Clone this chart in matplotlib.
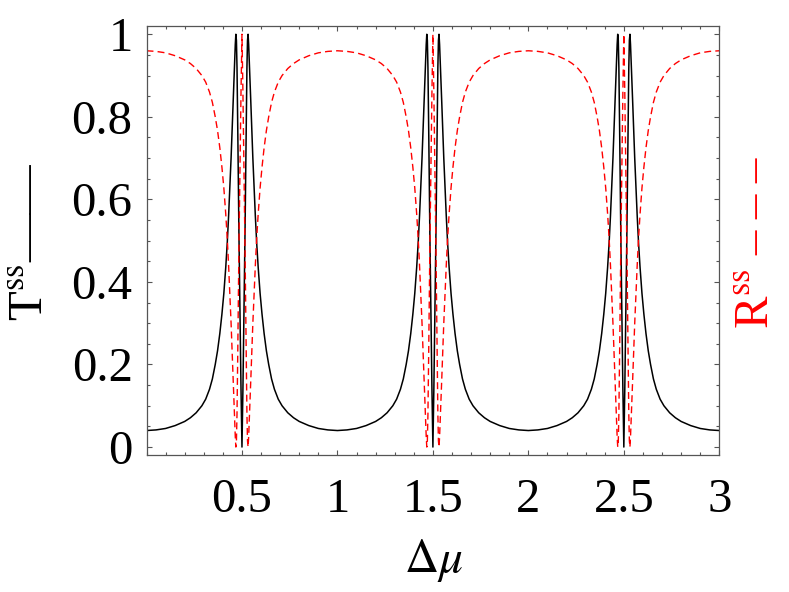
import numpy as np
import matplotlib
matplotlib.use("Agg")
import matplotlib.pyplot as plt
from matplotlib.ticker import MultipleLocator

plt.rcParams.update({"font.family": "Liberation Serif", "mathtext.fontset": "stix"})

# valeurs (T et R en regime stationnaire vs delta mu)
dmu = [0.0, 0.05, 0.1, 0.15, 0.2, 0.23, 0.26, 0.29, 0.31, 0.33, 0.345, 0.36, 0.372, 0.384, 0.395,
       0.405, 0.415, 0.423, 0.43, 0.437, 0.443, 0.449, 0.454, 0.458, 0.462, 0.465, 0.468, 0.471,
       0.474, 0.478, 0.484, 0.49, 0.495, 0.5,
       0.505, 0.51, 0.516, 0.522, 0.526, 0.529, 0.532, 0.535, 0.538, 0.542, 0.546, 0.551, 0.557,
       0.563, 0.57, 0.577, 0.585, 0.595, 0.605, 0.616, 0.628, 0.64, 0.655, 0.67, 0.69, 0.71, 0.74,
       0.77, 0.8, 0.85, 0.9, 0.95, 1.0,
       1.05, 1.1, 1.15, 1.2, 1.23, 1.26, 1.29, 1.31, 1.33, 1.345, 1.36, 1.372, 1.384, 1.395,
       1.405, 1.415, 1.423, 1.43, 1.437, 1.443, 1.449, 1.454, 1.458, 1.462, 1.465, 1.468, 1.471,
       1.474, 1.478, 1.484, 1.49, 1.495, 1.5,
       1.505, 1.51, 1.516, 1.522, 1.526, 1.529, 1.532, 1.535, 1.538, 1.542, 1.546, 1.551, 1.557,
       1.563, 1.57, 1.577, 1.585, 1.595, 1.605, 1.616, 1.628, 1.64, 1.655, 1.67, 1.69, 1.71, 1.74,
       1.77, 1.8, 1.85, 1.9, 1.95, 2.0,
       2.05, 2.1, 2.15, 2.2, 2.23, 2.26, 2.29, 2.31, 2.33, 2.345, 2.36, 2.372, 2.384, 2.395,
       2.405, 2.415, 2.423, 2.43, 2.437, 2.443, 2.449, 2.454, 2.458, 2.462, 2.465, 2.468, 2.471,
       2.474, 2.478, 2.484, 2.49, 2.495, 2.5,
       2.505, 2.51, 2.516, 2.522, 2.526, 2.529, 2.532, 2.535, 2.538, 2.542, 2.546, 2.551, 2.557,
       2.563, 2.57, 2.577, 2.585, 2.595, 2.605, 2.616, 2.628, 2.64, 2.655, 2.67, 2.69, 2.71, 2.74,
       2.77, 2.8, 2.85, 2.9, 2.95, 3.0]
T_ss = [0.040, 0.0415, 0.045, 0.052, 0.062, 0.071, 0.083, 0.100, 0.116, 0.140, 0.165, 0.200, 0.233, 0.275, 0.322,
        0.372, 0.435, 0.495, 0.56, 0.635, 0.70, 0.775, 0.84, 0.89, 0.94, 0.975, 1.0, 0.985,
        0.92, 0.77, 0.52, 0.31, 0.14, 0.0,
        0.14, 0.31, 0.52, 0.77, 0.92, 0.985, 1.0, 0.975, 0.94, 0.89, 0.84, 0.775, 0.70,
        0.635, 0.56, 0.495, 0.435, 0.372, 0.322, 0.275, 0.233, 0.200, 0.165, 0.140, 0.116, 0.100, 0.083,
        0.071, 0.062, 0.052, 0.045, 0.0415, 0.040,
        0.0415, 0.045, 0.052, 0.062, 0.071, 0.083, 0.100, 0.116, 0.140, 0.165, 0.200, 0.233, 0.275, 0.322,
        0.372, 0.435, 0.495, 0.56, 0.635, 0.70, 0.775, 0.84, 0.89, 0.94, 0.975, 1.0, 0.985,
        0.92, 0.77, 0.52, 0.31, 0.14, 0.0,
        0.14, 0.31, 0.52, 0.77, 0.92, 0.985, 1.0, 0.975, 0.94, 0.89, 0.84, 0.775, 0.70,
        0.635, 0.56, 0.495, 0.435, 0.372, 0.322, 0.275, 0.233, 0.200, 0.165, 0.140, 0.116, 0.100, 0.083,
        0.071, 0.062, 0.052, 0.045, 0.0415, 0.040,
        0.0415, 0.045, 0.052, 0.062, 0.071, 0.083, 0.100, 0.116, 0.140, 0.165, 0.200, 0.233, 0.275, 0.322,
        0.372, 0.435, 0.495, 0.56, 0.635, 0.70, 0.775, 0.84, 0.89, 0.94, 0.975, 1.0, 0.985,
        0.92, 0.77, 0.52, 0.31, 0.14, 0.0,
        0.14, 0.31, 0.52, 0.77, 0.92, 0.985, 1.0, 0.975, 0.94, 0.89, 0.84, 0.775, 0.70,
        0.635, 0.56, 0.495, 0.435, 0.372, 0.322, 0.275, 0.233, 0.200, 0.165, 0.140, 0.116, 0.100, 0.083,
        0.071, 0.062, 0.052, 0.045, 0.0415, 0.040]
R_ss = [0.960, 0.9585, 0.955, 0.948, 0.938, 0.929, 0.917, 0.900, 0.884, 0.860, 0.835, 0.800, 0.767, 0.725, 0.678,
        0.628, 0.565, 0.505, 0.44, 0.365, 0.30, 0.225, 0.16, 0.11, 0.06, 0.025, 0.0, 0.015,
        0.08, 0.23, 0.48, 0.69, 0.86, 1.0,
        0.86, 0.69, 0.48, 0.23, 0.08, 0.015, 0.0, 0.025, 0.06, 0.11, 0.16, 0.225, 0.30,
        0.365, 0.44, 0.505, 0.565, 0.628, 0.678, 0.725, 0.767, 0.800, 0.835, 0.860, 0.884, 0.900, 0.917,
        0.929, 0.938, 0.948, 0.955, 0.9585, 0.960,
        0.9585, 0.955, 0.948, 0.938, 0.929, 0.917, 0.900, 0.884, 0.860, 0.835, 0.800, 0.767, 0.725, 0.678,
        0.628, 0.565, 0.505, 0.44, 0.365, 0.30, 0.225, 0.16, 0.11, 0.06, 0.025, 0.0, 0.015,
        0.08, 0.23, 0.48, 0.69, 0.86, 1.0,
        0.86, 0.69, 0.48, 0.23, 0.08, 0.015, 0.0, 0.025, 0.06, 0.11, 0.16, 0.225, 0.30,
        0.365, 0.44, 0.505, 0.565, 0.628, 0.678, 0.725, 0.767, 0.800, 0.835, 0.860, 0.884, 0.900, 0.917,
        0.929, 0.938, 0.948, 0.955, 0.9585, 0.960,
        0.9585, 0.955, 0.948, 0.938, 0.929, 0.917, 0.900, 0.884, 0.860, 0.835, 0.800, 0.767, 0.725, 0.678,
        0.628, 0.565, 0.505, 0.44, 0.365, 0.30, 0.225, 0.16, 0.11, 0.06, 0.025, 0.0, 0.015,
        0.08, 0.23, 0.48, 0.69, 0.86, 1.0,
        0.86, 0.69, 0.48, 0.23, 0.08, 0.015, 0.0, 0.025, 0.06, 0.11, 0.16, 0.225, 0.30,
        0.365, 0.44, 0.505, 0.565, 0.628, 0.678, 0.725, 0.767, 0.800, 0.835, 0.860, 0.884, 0.900, 0.917,
        0.929, 0.938, 0.948, 0.955, 0.9585, 0.960]

xticks = [0.5, 1, 1.5, 2, 2.5, 3]
xticklabels = ["0.5", "1", "1.5", "2", "2.5", "3"]
yticks = [0, 0.2, 0.4, 0.6, 0.8, 1]
yticklabels = ["0", "0.2", "0.4", "0.6", "0.8", "1"]

W, H = 789, 592
fig = plt.figure(figsize=(W/100, H/100), dpi=100)
ax = fig.add_axes([146.5/W, 1-455.3/H, (719.3-146.5)/W, (455.3-26)/H])

ax.plot(dmu, T_ss, color="black", lw=1.1)
ax.plot(dmu, R_ss, color="red", lw=1.0, dashes=(5, 3))

ax.set_xlim(0, 3); ax.set_ylim(-0.02, 1.02)
ax.set_xticks(xticks); ax.set_xticklabels(xticklabels)
ax.set_yticks(yticks); ax.set_yticklabels(yticklabels)
ax.xaxis.set_minor_locator(MultipleLocator(0.1))
ax.yaxis.set_minor_locator(MultipleLocator(0.05))
fr = "#555555"
ax.tick_params(which="both", direction="in", top=True, right=True, color=fr, width=0.8)
ax.tick_params(which="major", length=3.8, labelsize=35)
ax.tick_params(which="minor", length=2.2)
ax.tick_params(axis="x", pad=16)
ax.tick_params(axis="y", pad=10)
for s in ax.spines.values():
    s.set_color(fr); s.set_linewidth(0.9)

fig.text(31/W, 1-242/H, "T$^{\\rm ss}$\u2014\u2014", rotation=90, ha="center", va="center", fontsize=35)
fig.text(757/W, 1-242/H, "R$^{\\rm ss}$ \u2013 \u2013 \u2013", rotation=90, ha="center", va="center",
         fontsize=35, color="red")
fig.text(433/W, 1-560/H, r"$\Delta\mu$", ha="center", va="center", fontsize=34)

fig.savefig("out.png", dpi=100)
